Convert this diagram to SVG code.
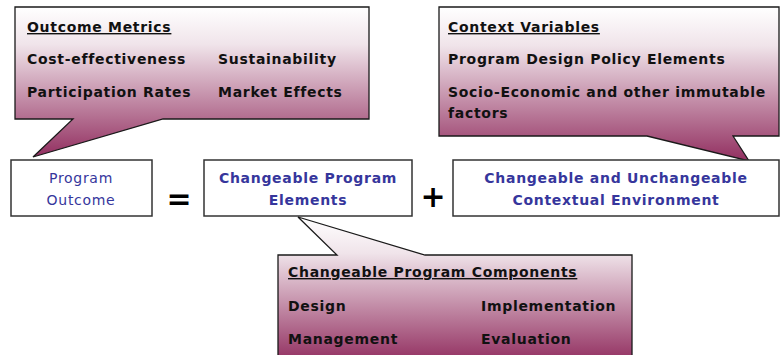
<svg xmlns="http://www.w3.org/2000/svg" width="780" height="355" viewBox="0 0 780 355">
  <defs>
    <linearGradient id="grad" x1="0" y1="0" x2="0" y2="1">
      <stop offset="0" stop-color="#ffffff"/>
      <stop offset="0.25" stop-color="#f0e4ea"/>
      <stop offset="1" stop-color="#922f60"/>
    </linearGradient>
  </defs>
  <style>
    .callout { fill: url(#grad); stroke: #1a1a1a; stroke-width: 1.3; stroke-linejoin: miter; }
    .box { fill: #ffffff; stroke: #333333; stroke-width: 1.5; }
    .t { font-family: "DejaVu Sans", Verdana, sans-serif; font-size: 14px; font-weight: bold; fill: #111111; letter-spacing: 0.7px; }
    .u { text-decoration: underline; }
    .lbl { font-family: "DejaVu Sans", Verdana, sans-serif; font-size: 14px; fill: #36369c; letter-spacing: 0.7px; text-anchor: middle; }
    .bold { font-weight: bold; }
    .op { font-family: "DejaVu Sans", Verdana, sans-serif; font-size: 30px; font-weight: bold; fill: #000000; text-anchor: middle; }
  </style>

  <g id="outcome-metrics">
    <path class="callout" d="M15,7 H369 V119 H163 L33,157 L73,119 H15 Z"/>
    <text class="t u" x="27" y="32">Outcome Metrics</text>
    <text class="t" x="27" y="64">Cost-effectiveness</text>
    <text class="t" x="218" y="64">Sustainability</text>
    <text class="t" x="27" y="97">Participation Rates</text>
    <text class="t" x="218" y="97">Market Effects</text>
  </g>

  <g id="context-variables">
    <path class="callout" d="M439,7 H779 V136 H733 L749,161 L647,136 H439 Z"/>
    <text class="t u" x="448" y="32">Context Variables</text>
    <text class="t" x="448" y="64">Program Design Policy Elements</text>
    <text class="t" x="448" y="97">Socio-Economic and other immutable</text>
    <text class="t" x="448" y="118">factors</text>
  </g>

  <g id="program-components">
    <path class="callout" d="M278,255 H337 L298,217 L425,255 H632 V362 H278 Z"/>
    <text class="t u" x="288" y="277">Changeable Program Components</text>
    <text class="t" x="288" y="311">Design</text>
    <text class="t" x="481" y="311">Implementation</text>
    <text class="t" x="288" y="344">Management</text>
    <text class="t" x="481" y="344">Evaluation</text>
  </g>

  <g id="program-outcome">
    <rect class="box" x="11" y="160" width="141" height="56"/>
    <text class="lbl" x="81" y="183">Program</text>
    <text class="lbl" x="81" y="205">Outcome</text>
  </g>

  <g id="program-elements">
    <rect class="box" x="204" y="160" width="208" height="56"/>
    <text class="lbl bold" x="308" y="183">Changeable Program</text>
    <text class="lbl bold" x="308" y="205">Elements</text>
  </g>

  <g id="contextual-environment">
    <rect class="box" x="453" y="160" width="326" height="56"/>
    <text class="lbl bold" x="616" y="183">Changeable and Unchangeable</text>
    <text class="lbl bold" x="616" y="205">Contextual Environment</text>
  </g>

  <g id="connectors">
    <text class="op" x="179" y="209">=</text>
    <text class="op" x="433" y="207">+</text>
  </g>
</svg>
